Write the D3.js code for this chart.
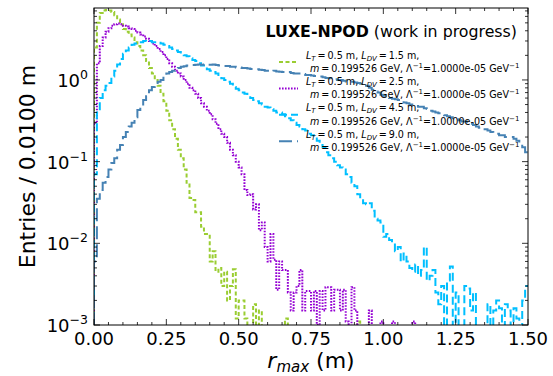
<!DOCTYPE html>
<meta charset="utf-8">
<style>
body { margin: 0; background: #fff; }
svg text { font-family: "DejaVu Sans", sans-serif; fill: #000; }
</style>
<body>
<div id="chart"></div>
<script src="https://d3js.org/d3.v7.min.js"></script>
<script>

// histogram bins: 0 .. 1.5 m, width 0.01 m
var binWidth = 0.01;
var nBins = 150;

var ldvValues = ["1.5", "2.5", "4.5", "9.0"];

var ldv15 = [
  2.5, 5.0, 6.6, 7.1, 7.2, 7.1, 6.8, 6.2, 5.5, 4.8,
  4.2, 3.9, 3.6, 3.3, 2.9, 2.6, 2.3, 2.0, 1.7, 1.4,
  1.2, 1.0, 0.85, 0.68, 0.55, 0.42, 0.32, 0.25, 0.19, 0.14,
  0.11, 0.08, 0.055, 0.036, 0.034, 0.024, 0.024, 0.016, 0.013, 0.013,
  0.006, 0.008, 0.0045, 0.005, 0.003, 0.0045, 0.002, 0.003, 0.0048, 0.0012,
  0.002, 0.002, 0.0012, 0, 0, 0.0018, 0, 0.0015, 0, 0,
  0, 0, 0, 0, 0, 0, 0.0012, 0, 0, 0,
  0, 0, 0, 0, 0, 0, 0, 0, 0, 0,
  0, 0, 0, 0, 0, 0, 0, 0, 0, 0,
  0, 0.0011, 0, 0, 0, 0, 0, 0, 0, 0,
  0, 0, 0, 0, 0, 0, 0, 0, 0, 0,
  0, 0, 0, 0, 0, 0, 0, 0, 0, 0,
  0, 0, 0, 0, 0, 0, 0, 0, 0, 0,
  0, 0, 0, 0, 0, 0, 0, 0, 0, 0,
  0, 0, 0, 0, 0, 0, 0, 0, 0, 0
];

var ldv25 = [
  0.3, 1.6, 2.6, 3.3, 3.9, 4.3, 4.6, 4.8, 4.9, 4.8,
  4.6, 4.5, 4.3, 4.2, 4.0, 3.8, 3.6, 3.4, 3.2, 3.0,
  2.8, 2.6, 2.4, 2.2, 2.0, 1.8, 1.6, 1.45, 1.3, 1.2,
  1.1, 1.0, 0.9, 0.8, 0.75, 0.68, 0.6, 0.52, 0.47, 0.42,
  0.38, 0.33, 0.29, 0.25, 0.22, 0.2, 0.17, 0.14, 0.12, 0.1,
  0.085, 0.07, 0.045, 0.039, 0.04, 0.026, 0.03, 0.0145, 0.018, 0.009,
  0.006, 0.013, 0.0063, 0.0027, 0.006, 0.0047, 0.0047, 0.0025, 0.0015, 0.0025,
  0.003, 0.0047, 0.0015, 0.0026, 0.0026, 0.0015, 0.0026, 0.001, 0.0026, 0.0015,
  0.0029, 0.0029, 0.0015, 0.0027, 0.0027, 0.0015, 0.0027, 0.0011, 0, 0.0029,
  0.0015, 0, 0, 0, 0, 0.0015, 0, 0, 0, 0.0011,
  0, 0, 0, 0.0011, 0, 0, 0, 0, 0, 0,
  0.0011, 0, 0, 0, 0, 0, 0, 0, 0, 0,
  0, 0, 0, 0, 0, 0, 0, 0, 0, 0,
  0, 0, 0, 0, 0, 0, 0, 0, 0, 0,
  0, 0, 0, 0, 0, 0, 0, 0, 0, 0
];

var ldv45 = [
  0.07, 0.4, 0.6, 0.75, 0.85, 0.92, 1.1, 1.3, 1.55, 1.8,
  2.1, 2.3, 2.5, 2.7, 2.8, 2.9, 2.9, 3.0, 2.95, 3.0,
  2.9, 2.9, 2.85, 2.8, 2.7, 2.6, 2.5, 2.4, 2.3, 2.2,
  2.1, 2.0, 1.95, 1.85, 1.75, 1.7, 1.6, 1.5, 1.45, 1.35,
  1.3, 1.25, 1.2, 1.1, 1.05, 1.0, 0.95, 0.9, 0.82, 0.78,
  0.75, 0.7, 0.68, 0.64, 0.6, 0.57, 0.55, 0.52, 0.5, 0.47,
  0.46, 0.44, 0.42, 0.4, 0.4, 0.38, 0.36, 0.34, 0.32, 0.3,
  0.28, 0.27, 0.25, 0.24, 0.22, 0.21, 0.2, 0.18, 0.16, 0.15,
  0.13, 0.12, 0.11, 0.1, 0.09, 0.085, 0.08, 0.07, 0.065, 0.055,
  0.05, 0.04, 0.035, 0.031, 0.03, 0.031, 0.025, 0.02, 0.019, 0.018,
  0.012, 0.013, 0.011, 0.01, 0.008, 0.009, 0.006, 0.0075, 0.006, 0.005,
  0.0045, 0.0055, 0.004, 0.0047, 0.009, 0.0035, 0.004, 0.0047, 0.0025, 0.0018,
  0.003, 0, 0.0035, 0.0052, 0, 0.0025, 0, 0, 0.003, 0.0028,
  0.0015, 0.0025, 0, 0, 0, 0, 0.0018, 0, 0.0015, 0.002,
  0.0016, 0, 0.0018, 0.0015, 0, 0.0016, 0.0012, 0, 0.002, 0.003
];

var ldv90 = [
  0.006, 0.035, 0.045, 0.055, 0.065, 0.08, 0.096, 0.11, 0.14, 0.16,
  0.2, 0.23, 0.27, 0.3, 0.35, 0.43, 0.48, 0.57, 0.63, 0.75,
  0.82, 0.88, 0.95, 1.0, 1.1, 1.2, 1.25, 1.3, 1.35, 1.4,
  1.45, 1.47, 1.5, 1.5, 1.52, 1.53, 1.55, 1.53, 1.55, 1.53,
  1.53, 1.55, 1.52, 1.5, 1.5, 1.48, 1.48, 1.45, 1.45, 1.42,
  1.42, 1.4, 1.4, 1.38, 1.36, 1.35, 1.35, 1.33, 1.32, 1.3,
  1.3, 1.28, 1.3, 1.27, 1.26, 1.25, 1.24, 1.25, 1.22, 1.2,
  1.2, 1.2, 1.18, 1.15, 1.15, 1.13, 1.12, 1.12, 1.1, 1.08,
  1.06, 1.05, 1.03, 1.02, 1.0, 1.0, 0.98, 0.96, 0.95, 0.95,
  0.93, 0.92, 0.9, 0.88, 0.85, 0.8, 0.76, 0.72, 0.7, 0.66,
  0.64, 0.62, 0.6, 0.59, 0.58, 0.57, 0.55, 0.53, 0.52, 0.5,
  0.49, 0.48, 0.47, 0.47, 0.45, 0.44, 0.42, 0.41, 0.4, 0.39,
  0.38, 0.37, 0.36, 0.35, 0.34, 0.33, 0.32, 0.31, 0.31, 0.3,
  0.29, 0.28, 0.27, 0.26, 0.26, 0.25, 0.24, 0.23, 0.22, 0.22,
  0.21, 0.21, 0.2, 0.2, 0.2, 0.19, 0.18, 0.17, 0.15, 0.13
];

var xTicks = [0, 0.25, 0.5, 0.75, 1.0, 1.25, 1.5];
var yTickExps = [-3, -2, -1, 0];

var colors = ["#9acd32", "#9400d3", "#00bfff", "#4682b4"];
var dashes = ["4,2.5", "1.6,1.4", "8,4", "13,5"];

var width = 553, height = 376;
var margin = {left: 94, top: 8, right: 25, bottom: 51};
var iw = width - margin.left - margin.right,
    ih = height - margin.top - margin.bottom;

var svg = d3.select("#chart").append("svg")
    .attr("width", width)
    .attr("height", height);

var g = svg.append("g")
    .attr("transform", "translate(" + margin.left + "," + margin.top + ")");

var x = d3.scaleLinear().domain([0, 1.5]).range([0, iw]);
var y = d3.scaleLog().domain([1e-3, 7.6]).range([ih, 0]);

svg.append("defs").append("clipPath").attr("id", "clip")
  .append("rect").attr("width", iw).attr("height", ih);

var allSeries = [ldv15, ldv25, ldv45, ldv90];

var line = d3.line()
    .x(function(d) { return x(d[0]); })
    .y(function(d) { return y(Math.max(d[1], 1e-5)); })
    .curve(d3.curveStepAfter);

var plot = g.append("g").attr("clip-path", "url(#clip)");

allSeries.forEach(function(vals, k) {
  var pts = [[0, 0]];
  vals.forEach(function(v, i) { pts.push([i * binWidth, v]); });
  pts.push([nBins * binWidth, vals[nBins - 1]]);
  plot.append("path")
    .attr("d", line(pts))
    .attr("fill", "none")
    .attr("stroke", colors[k])
    .attr("stroke-width", 2)
    .attr("stroke-dasharray", dashes[k]);
});

// ticks (inward, all four sides)
var minorX = d3.range(0, 1.5001, 0.05);
var minorY = [];
for (var e = -3; e < 1; e++) {
  for (var m = 2; m <= 9; m++) {
    if (m * Math.pow(10, e) < 7.6) minorY.push(m * Math.pow(10, e));
  }
}

var ticks = g.append("g").attr("stroke", "#000").attr("stroke-width", 0.8);

minorX.forEach(function(t) {
  var len = xTicks.some(function(v) { return Math.abs(v - t) < 1e-6; }) ? 6 : 3;
  ticks.append("line").attr("x1", x(t)).attr("x2", x(t)).attr("y1", ih).attr("y2", ih - len);
  ticks.append("line").attr("x1", x(t)).attr("x2", x(t)).attr("y1", 0).attr("y2", len);
});
yTickExps.forEach(function(e) {
  var yy = y(Math.pow(10, e));
  ticks.append("line").attr("x1", 0).attr("x2", 6).attr("y1", yy).attr("y2", yy);
  ticks.append("line").attr("x1", iw).attr("x2", iw - 6).attr("y1", yy).attr("y2", yy);
});
minorY.forEach(function(t) {
  var yy = y(t);
  ticks.append("line").attr("x1", 0).attr("x2", 3).attr("y1", yy).attr("y2", yy);
  ticks.append("line").attr("x1", iw).attr("x2", iw - 3).attr("y1", yy).attr("y2", yy);
});

g.append("rect")
    .attr("width", iw).attr("height", ih)
    .attr("fill", "none").attr("stroke", "#000").attr("stroke-width", 1);

// tick labels
g.selectAll(".xl").data(xTicks).enter().append("text")
    .attr("x", function(d) { return x(d); })
    .attr("y", ih + 20)
    .attr("text-anchor", "middle")
    .style("font-size", "18px")
    .text(function(d) { return d3.format(".2f")(d); });

yTickExps.forEach(function(e) {
  var t = g.append("text")
      .attr("x", -6)
      .attr("y", y(Math.pow(10, e)) + 7)
      .attr("text-anchor", "end")
      .style("font-size", "18px");
  t.append("tspan").text("10");
  t.append("tspan").attr("dy", -8).style("font-size", "12.5px")
      .text(e < 0 ? "\u2212" + (-e) : String(e));
});

// axis labels
var xl = svg.append("text")
    .attr("x", margin.left + iw / 2)
    .attr("y", 368)
    .attr("text-anchor", "middle")
    .style("font-size", "22px");
xl.append("tspan").style("font-style", "italic").text("r");
xl.append("tspan").attr("dy", 4).style("font-style", "italic").style("font-size", "15px").text("max");
xl.append("tspan").attr("dy", -4).text(" (m)");

svg.append("text")
    .attr("transform", "translate(35," + (margin.top + ih / 2) + ") rotate(-90)")
    .attr("text-anchor", "middle")
    .style("font-size", "22px")
    .text("Entries / 0.0100 m");

// legend
var title = svg.append("text")
    .attr("x", 517).attr("y", 37)
    .attr("text-anchor", "end")
    .style("font-size", "15.8px");
title.append("tspan").style("font-weight", "bold").text("LUXE-NPOD");
title.append("tspan").text(" (work in progress)");

var legend = svg.append("g");
ldvValues.forEach(function(ldv, k) {
  var cy = 62 + k * 26.4;
  legend.append("line")
      .attr("x1", 279).attr("x2", 298)
      .attr("y1", cy).attr("y2", cy)
      .attr("stroke", colors[k]).attr("stroke-width", 2)
      .attr("stroke-dasharray", dashes[k]);

  var t1 = legend.append("text").attr("x", 306).attr("y", cy - 3.5).style("font-size", "9.6px");
  t1.append("tspan").style("font-style", "italic").text("L");
  t1.append("tspan").attr("dy", 2).style("font-style", "italic").style("font-size", "7px").text("T");
  t1.append("tspan").attr("dy", -2).text("\u2009=\u20090.5 m, ");
  t1.append("tspan").style("font-style", "italic").text("L");
  t1.append("tspan").attr("dy", 2).style("font-style", "italic").style("font-size", "7px").text("DV");
  t1.append("tspan").attr("dy", -2).text("\u2009=\u2009" + ldv + " m,");

  var t2 = legend.append("text").attr("x", 310).attr("y", cy + 10).style("font-size", "9.6px");
  t2.append("tspan").style("font-style", "italic").text("m");
  t2.append("tspan").text("\u2009=\u20090.199526 GeV, \u039b");
  t2.append("tspan").attr("dy", -4).style("font-size", "7px").text("\u22121");
  t2.append("tspan").attr("dy", 4).text("=1.0000e-05 GeV");
  t2.append("tspan").attr("dy", -4).style("font-size", "7px").text("\u22121");
});

</script>
</body>
